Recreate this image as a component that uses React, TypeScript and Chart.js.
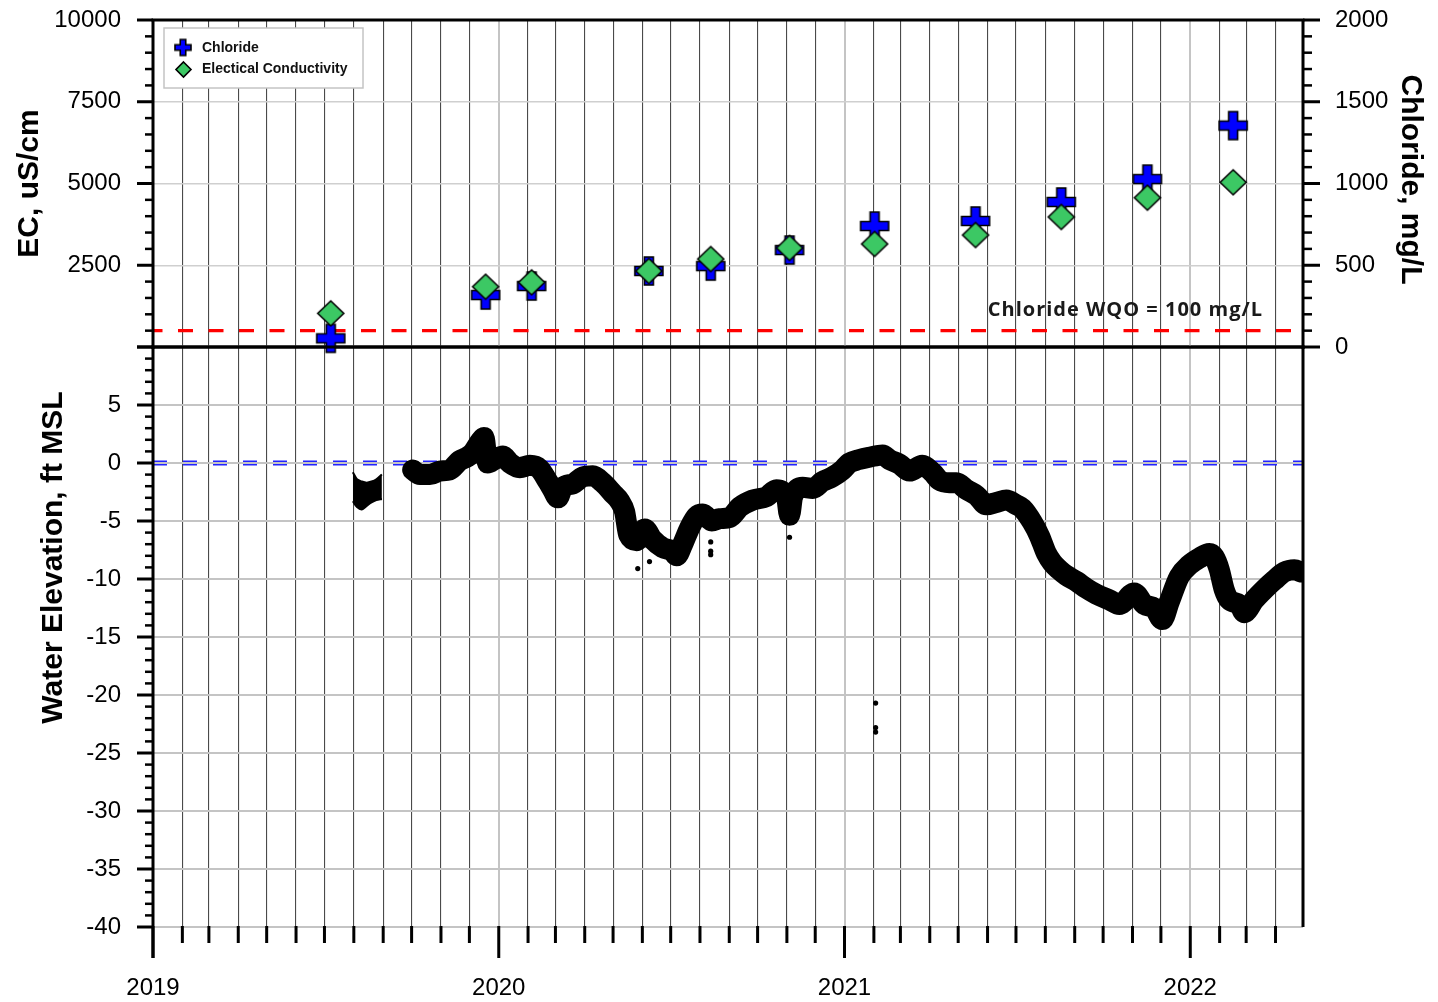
import React, { useEffect, useRef } from 'react';
import { Chart, registerables } from 'chart.js';

Chart.register(...registerables);

// ---------------- data ----------------
const sampleDates = [2019.514, 2019.962, 2020.095, 2020.434, 2020.613, 2020.841, 2021.087, 2021.379, 2021.627, 2021.876, 2022.124];
const chlorideValues = [53, 318, 373, 465, 495, 593, 740, 771, 887, 1027, 1354];
const ecValues = [1030, 1844, 1978, 2324, 2691, 3028, 3150, 3425, 3976, 4566, 5037];
const wqoChloride = 100;

// short record in mid 2019, read as upper / lower edge of the band
const elevDatesA = [2019.578, 2019.590, 2019.604, 2019.618, 2019.632, 2019.646, 2019.662];
const elevUpperA = [-0.8, -1.4, -1.6, -1.7, -1.6, -1.4, -1.0];
const elevLowerA = [-3.3, -3.8, -4.0, -3.7, -3.4, -3.2, -3.1];

const elevDatesB = [
  2019.751, 2019.772, 2019.801, 2019.829, 2019.858, 2019.887, 2019.908, 2019.925, 2019.945, 2019.957,
  2019.968, 2019.988, 2020.012, 2020.032, 2020.061, 2020.090, 2020.118, 2020.142, 2020.156, 2020.171,
  2020.185, 2020.214, 2020.243, 2020.272, 2020.301, 2020.329, 2020.350, 2020.364, 2020.376, 2020.399,
  2020.422, 2020.445, 2020.474, 2020.503, 2020.514, 2020.532, 2020.552, 2020.572, 2020.590, 2020.616,
  2020.639, 2020.668, 2020.697, 2020.734, 2020.775, 2020.803, 2020.832, 2020.841, 2020.850, 2020.879,
  2020.908, 2020.936, 2020.965, 2020.994, 2021.014, 2021.043, 2021.072, 2021.110, 2021.130, 2021.159,
  2021.188, 2021.225, 2021.254, 2021.275, 2021.303, 2021.324, 2021.353, 2021.382, 2021.410, 2021.439,
  2021.468, 2021.497, 2021.514, 2021.543, 2021.564, 2021.584, 2021.601, 2021.621, 2021.642, 2021.671,
  2021.699, 2021.728, 2021.766, 2021.795, 2021.838, 2021.867, 2021.896, 2021.919, 2021.939, 2021.968,
  2021.997, 2022.026, 2022.055, 2022.069, 2022.084, 2022.098, 2022.113, 2022.142, 2022.156, 2022.185,
  2022.214, 2022.243, 2022.272, 2022.301, 2022.321,
];
const elevValuesB = [
  -0.6, -1.0, -1.0, -0.7, -0.6, 0.2, 0.5, 0.9, 1.8, 2.2,
  0.0, 0.3, 0.6, 0.0, -0.4, -0.2, -0.5, -1.6, -2.3, -3.0,
  -2.1, -1.8, -1.2, -1.1, -1.7, -2.6, -3.3, -4.2, -6.2, -6.7,
  -5.7, -6.6, -7.3, -7.6, -8.0, -7.0, -5.6, -4.6, -4.4, -5.0,
  -4.8, -4.7, -3.8, -3.2, -2.9, -2.3, -2.9, -4.5, -2.9, -2.1,
  -2.2, -1.6, -1.2, -0.6, 0.0, 0.3, 0.5, 0.7, 0.3, -0.1,
  -0.7, -0.2, -0.8, -1.5, -1.7, -1.7, -2.3, -2.8, -3.6, -3.4,
  -3.2, -3.6, -3.9, -5.1, -6.3, -7.8, -8.6, -9.2, -9.7, -10.2,
  -10.8, -11.3, -11.8, -12.2, -11.2, -12.2, -12.5, -13.5, -12.0, -9.8,
  -8.8, -8.2, -7.8, -8.1, -9.2, -10.9, -11.8, -12.2, -12.9, -11.8,
  -10.9, -10.1, -9.4, -9.2, -9.4,
];

const strayDates = [2020.402, 2020.436, 2020.613, 2020.613, 2020.613, 2020.841, 2021.090, 2021.090, 2021.090];
const strayValues = [-9.1, -8.5, -6.8, -7.6, -7.9, -6.4, -20.7, -22.8, -23.2];

const X_MIN = 2019;
const X_MAX = 2022 + 119 / 365;
const ecRange = [0, 10000];
const ecStep = 2500;
const ecMinorStep = 500;
const clRange = [0, 2000];
const clStep = 500;
const clMinorStep = 100;
const elevRange = [-40, 10];
const elevStep = 5;
const elevMinorStep = 1;

const FONT = '"Liberation Sans", Arial, sans-serif';

// ---------------- helpers ----------------
function monthTicks() {
  const out: { value: number }[] = [];
  for (let y = 2019; y <= 2022; y++) {
    const ys = Date.UTC(y, 0, 1);
    const ye = Date.UTC(y + 1, 0, 1);
    for (let m = 0; m < 12; m++) {
      const v = y + (Date.UTC(y, m, 1) - ys) / (ye - ys);
      if (v >= X_MIN - 1e-9 && v <= X_MAX + 1e-9) out.push({ value: v });
    }
  }
  return out;
}
const isYear = (v: number) => Math.abs(v - Math.round(v)) < 1e-6;

function makePlus(size: number, arm: number, fill: string) {
  const pad = 2;
  const S = Math.ceil(size + pad * 2);
  const c = document.createElement('canvas');
  c.width = S; c.height = S;
  const g = c.getContext('2d')!;
  const h = size / 2, t = arm / 2, cx = S / 2, cy = S / 2;
  g.beginPath();
  g.moveTo(cx - t, cy - h); g.lineTo(cx + t, cy - h); g.lineTo(cx + t, cy - t);
  g.lineTo(cx + h, cy - t); g.lineTo(cx + h, cy + t); g.lineTo(cx + t, cy + t);
  g.lineTo(cx + t, cy + h); g.lineTo(cx - t, cy + h); g.lineTo(cx - t, cy + t);
  g.lineTo(cx - h, cy + t); g.lineTo(cx - h, cy - t); g.lineTo(cx - t, cy - t);
  g.closePath();
  g.fillStyle = fill; g.fill();
  g.lineWidth = 1.6; g.strokeStyle = '#000'; g.stroke();
  return c;
}
function makeDiamond(w: number, h: number, fill: string) {
  const pad = 2;
  const W = Math.ceil(w + pad * 2), H = Math.ceil(h + pad * 2);
  const c = document.createElement('canvas');
  c.width = W; c.height = H;
  const g = c.getContext('2d')!;
  const cx = W / 2, cy = H / 2;
  g.beginPath();
  g.moveTo(cx, cy - h / 2); g.lineTo(cx + w / 2, cy); g.lineTo(cx, cy + h / 2); g.lineTo(cx - w / 2, cy);
  g.closePath();
  g.fillStyle = fill; g.fill();
  g.lineWidth = 1.6; g.strokeStyle = '#000'; g.stroke();
  return c;
}

const BLUE = '#0000ff';
const GREEN = '#3cc864';

function fixVertical(width: number) {
  return (s: any) => {
    s.width = width;
    s.paddingTop = 0;
    s.paddingBottom = 0;
  };
}

function xScale(showLabels: boolean) {
  return {
    type: 'linear',
    min: X_MIN,
    max: X_MAX,
    afterBuildTicks: (s: any) => { s.ticks = monthTicks(); },
    afterFit: (s: any) => {
      s.height = showLabels ? 75 : 0;
      s.paddingLeft = 0;
      s.paddingRight = 0;
    },
    border: { display: false },
    grid: {
      drawTicks: false,
      color: (c: any) => (c.tick && isYear(c.tick.value) ? '#c4c4c4' : '#4a4a4a'),
      lineWidth: (c: any) => (c.tick && isYear(c.tick.value) ? 2 : 1.1),
    },
    ticks: {
      display: showLabels,
      autoSkip: false,
      maxRotation: 0,
      minRotation: 0,
      padding: 47,
      color: '#000',
      font: { family: FONT, size: 24 },
      callback: (v: number) => (isYear(v) ? String(Math.round(v)) : ''),
    },
  };
}

function strokeLine(ctx: CanvasRenderingContext2D, x1: number, y1: number, x2: number, y2: number, lw: number, color = '#000') {
  ctx.save();
  ctx.strokeStyle = color;
  ctx.lineWidth = lw;
  ctx.lineCap = 'butt';
  ctx.beginPath();
  ctx.moveTo(x1, y1);
  ctx.lineTo(x2, y2);
  ctx.stroke();
  ctx.restore();
}

function drawRotatedText(ctx: CanvasRenderingContext2D, text: string, x: number, y: number, rot: number, font: string) {
  ctx.save();
  ctx.translate(x, y);
  ctx.rotate(rot);
  ctx.font = font;
  ctx.fillStyle = '#000';
  ctx.textAlign = 'center';
  ctx.textBaseline = 'alphabetic';
  ctx.fillText(text, 0, 0);
  ctx.restore();
}

// ---------------- component ----------------
export default function App() {
  const topRef = useRef<HTMLCanvasElement>(null);
  const botRef = useRef<HTMLCanvasElement>(null);

  useEffect(() => {
    const plusImg = makePlus(28, 9, BLUE);
    const diamondImg = makeDiamond(26, 25, GREEN);
    const plusLegend = makePlus(16, 5.5, BLUE);
    const diamondLegend = makeDiamond(15, 15, GREEN);

    const topPlugin = {
      id: 'topDecor',
      afterDraw(chart: any) {
        const ctx: CanvasRenderingContext2D = chart.ctx;
        const { left, right, top, bottom } = chart.chartArea;
        const ys = chart.scales.y;
        const y2 = chart.scales.y2;
        for (let v = ecRange[0]; v <= ecRange[1]; v += ecMinorStep) {
          const py = ys.getPixelForValue(v);
          const major = v % ecStep === 0;
          strokeLine(ctx, left, py, left - (major ? 16 : 8), py, major ? 3 : 2.5);
        }
        for (let v = clRange[0]; v <= clRange[1]; v += clMinorStep) {
          const py = y2.getPixelForValue(v);
          const major = v % clStep === 0;
          strokeLine(ctx, right, py, right + (major ? 17 : 9), py, major ? 3 : 2.5);
        }
        strokeLine(ctx, left - 1.5, top, right + 1.5, top, 3);
        strokeLine(ctx, left - 1.5, bottom, right + 1.5, bottom, 3);
        strokeLine(ctx, left, top, left, bottom + 2, 3);
        strokeLine(ctx, right, top, right, bottom + 2, 3);

        // axis titles
        drawRotatedText(ctx, 'EC, uS/cm', 37.5, (top + bottom) / 2, -Math.PI / 2, `bold 30px ${FONT}`);
        drawRotatedText(ctx, 'Chloride, mg/L', 1402, (top + bottom) / 2 - 4, Math.PI / 2, `bold 30px ${FONT}`);

        // WQO label
        ctx.save();
        ctx.font = `bold 20px "Open Sans", "Noto Sans", sans-serif`;
        (ctx as any).letterSpacing = '1px';
        ctx.fillStyle = '#1a1a1a';
        ctx.textAlign = 'right';
        ctx.textBaseline = 'alphabetic';
        ctx.fillText(`Chloride WQO = ${wqoChloride} mg/L`, 1263, 316);
        ctx.restore();

        // legend
        ctx.save();
        ctx.fillStyle = '#fff';
        ctx.fillRect(164, 28, 199, 60);
        ctx.strokeStyle = '#c4c4c4';
        ctx.lineWidth = 1.5;
        ctx.strokeRect(164, 28, 199, 60);
        ctx.drawImage(plusLegend, 183 - plusLegend.width / 2, 47.5 - plusLegend.height / 2);
        ctx.drawImage(diamondLegend, 183.5 - diamondLegend.width / 2, 69.5 - diamondLegend.height / 2);
        ctx.font = `bold 14px ${FONT}`;
        ctx.fillStyle = '#111';
        ctx.textAlign = 'left';
        ctx.textBaseline = 'middle';
        ctx.fillText('Chloride', 202, 48);
        ctx.fillText('Electical Conductivity', 202, 69.5);
        ctx.restore();
      },
    };

    const botPlugin = {
      id: 'botDecor',
      afterDraw(chart: any) {
        const ctx: CanvasRenderingContext2D = chart.ctx;
        const { left, right, top, bottom } = chart.chartArea;
        const ys = chart.scales.y;
        const xs = chart.scales.x;
        for (let v = elevRange[0]; v <= elevRange[1]; v += elevMinorStep) {
          const py = ys.getPixelForValue(v);
          const major = v % elevStep === 0;
          strokeLine(ctx, left, py, left - (major ? 16 : 8), py, major ? 3 : 2.5);
        }
        for (const t of monthTicks()) {
          const px = xs.getPixelForValue(t.value);
          const yr = isYear(t.value);
          strokeLine(ctx, px, bottom - 1, px, bottom + (yr ? 31 : 16), 3);
        }
        strokeLine(ctx, left - 1.5, top, right + 1.5, top, 3);
        strokeLine(ctx, left, top, left, bottom + 31, 3);
        strokeLine(ctx, right, top, right, bottom, 3);
        drawRotatedText(ctx, 'Water Elevation, ft MSL', 62, top + 210.5, -Math.PI / 2, `bold 30px ${FONT}`);
      },
    };

    const topChart = new Chart(topRef.current!, {
      type: 'scatter',
      data: {
        datasets: [
          {
            label: 'Electical Conductivity',
            data: sampleDates.map((d, i) => ({ x: d, y: ecValues[i] })),
            yAxisID: 'y',
            pointStyle: diamondImg as any,
            pointRadius: 13,
            clip: false as any,
            order: 0,
          },
          {
            label: 'Chloride',
            data: sampleDates.map((d, i) => ({ x: d, y: chlorideValues[i] })),
            yAxisID: 'y2',
            pointStyle: plusImg as any,
            pointRadius: 14,
            clip: false as any,
            order: 1,
          },
          {
            type: 'line',
            label: 'WQO',
            data: [{ x: X_MIN, y: wqoChloride }, { x: X_MAX, y: wqoChloride }],
            yAxisID: 'y2',
            borderColor: '#ff0000',
            borderWidth: 3.3,
            borderDash: [15, 15.5],
            borderDashOffset: 5.5,
            pointRadius: 0,
            showLine: true,
            order: 2,
          } as any,
        ],
      },
      options: {
        animation: false,
        responsive: false,
        layout: { autoPadding: false, padding: { top: 20, bottom: 15, left: 0, right: 0 } },
        plugins: { legend: { display: false }, tooltip: { enabled: false } },
        events: [],
        scales: {
          x: xScale(false) as any,
          y: {
            type: 'linear',
            position: 'left',
            min: ecRange[0],
            max: ecRange[1],
            afterFit: fixVertical(153),
            border: { display: false },
            grid: {
              drawTicks: false,
              color: (c: any) => (c.tick && c.tick.value > ecRange[0] && c.tick.value < ecRange[1] ? '#cfcfcf' : 'rgba(0,0,0,0)'),
              lineWidth: 1.4,
            },
            ticks: {
              stepSize: ecStep,
              padding: 32,
              color: '#000',
              font: { family: FONT, size: 24 },
              callback: (v: number) => (v === 0 ? '' : String(v)),
            },
          },
          y2: {
            type: 'linear',
            position: 'right',
            min: clRange[0],
            max: clRange[1],
            afterFit: fixVertical(135),
            border: { display: false },
            grid: { drawTicks: false, drawOnChartArea: false },
            ticks: {
              stepSize: clStep,
              padding: 32,
              color: '#000',
              font: { family: FONT, size: 24 },
              callback: (v: number) => String(v),
            },
          },
        },
      } as any,
      plugins: [topPlugin],
    });

    const botChart = new Chart(botRef.current!, {
      type: 'scatter',
      data: {
        datasets: [
          {
            type: 'line',
            label: 'Elevation B',
            data: elevDatesB.map((d, i) => ({ x: d, y: elevValuesB[i] })),
            borderColor: '#000',
            borderWidth: 21,
            borderJoinStyle: 'round',
            borderCapStyle: 'round',
            cubicInterpolationMode: 'monotone',
            pointRadius: 0,
            showLine: true,
            order: 0,
          } as any,
          {
            type: 'line',
            label: 'Elevation A upper',
            data: elevDatesA.map((d, i) => ({ x: d, y: elevUpperA[i] })),
            borderColor: '#000',
            backgroundColor: '#000',
            borderWidth: 2,
            fill: '+1',
            tension: 0.3,
            pointRadius: 0,
            showLine: true,
            order: 0,
          } as any,
          {
            type: 'line',
            label: 'Elevation A lower',
            data: elevDatesA.map((d, i) => ({ x: d, y: elevLowerA[i] })),
            borderColor: '#000',
            borderWidth: 2,
            tension: 0.3,
            pointRadius: 0,
            showLine: true,
            order: 0,
          } as any,
          {
            label: 'Stray',
            data: strayDates.map((d, i) => ({ x: d, y: strayValues[i] })),
            backgroundColor: '#000',
            borderWidth: 0,
            pointRadius: 2.6,
            order: 0,
          },
          {
            type: 'line',
            label: 'zero grid',
            data: [{ x: X_MIN, y: 0 }, { x: X_MAX, y: 0 }],
            borderColor: '#c4c4c4',
            borderWidth: 2,
            pointRadius: 0,
            showLine: true,
            order: 5,
          } as any,
          {
            type: 'line',
            label: 'zero ref',
            data: [{ x: X_MIN, y: 0 }, { x: X_MAX, y: 0 }],
            borderColor: '#2323ff',
            borderWidth: 5,
            borderDash: [14, 16],
            pointRadius: 0,
            showLine: true,
            order: 6,
          } as any,
        ],
      },
      options: {
        animation: false,
        responsive: false,
        layout: { autoPadding: false, padding: { top: 19, bottom: 0, left: 0, right: 135 } },
        plugins: { legend: { display: false }, tooltip: { enabled: false }, filler: { propagate: false } },
        events: [],
        scales: {
          x: xScale(true) as any,
          y: {
            type: 'linear',
            position: 'left',
            min: elevRange[0],
            max: elevRange[1],
            afterFit: fixVertical(153),
            border: { display: false },
            grid: {
              drawTicks: false,
              color: (c: any) => (c.tick && c.tick.value < elevRange[1] ? '#c4c4c4' : 'rgba(0,0,0,0)'),
              lineWidth: 2,
            },
            ticks: {
              stepSize: elevStep,
              padding: 32,
              color: '#000',
              font: { family: FONT, size: 24 },
              callback: (v: number) => (v === elevRange[1] ? '' : String(v)),
            },
          },
        },
      } as any,
      plugins: [botPlugin],
    });

    return () => {
      topChart.destroy();
      botChart.destroy();
    };
  }, []);

  return (
    <div style={{ position: 'absolute', left: 0, top: 0, width: 1438, height: 1002, background: '#fff' }}>
      <canvas
        ref={botRef}
        width={1438}
        height={674}
        style={{ position: 'absolute', left: 0, top: 328, width: 1438, height: 674, zIndex: 1 }}
      />
      <canvas
        ref={topRef}
        width={1438}
        height={362}
        style={{ position: 'absolute', left: 0, top: 0, width: 1438, height: 362, zIndex: 2 }}
      />
    </div>
  );
}
